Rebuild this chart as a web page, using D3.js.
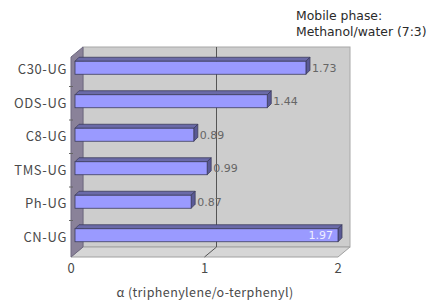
<!DOCTYPE html>
<html lang="en">
<head>
  <meta charset="UTF-8">
  <title>alpha triphenylene / o-terphenyl</title>
  <script src="https://cdn.jsdelivr.net/npm/d3@7"></script>
  <style>
    body { margin: 0; background: #fff; }
    .cat, .tick-label, .axis-title { font-family: "Noto Sans CJK JP", "DejaVu Sans", sans-serif; fill: #4a4a4a; }
    .cat { letter-spacing: 0.6px; }
    .axis-title { letter-spacing: 0.4px; }
    .val { font-family: "DejaVu Sans", sans-serif; font-size: 11px; fill: #666; }
    .note { font-family: "DejaVu Sans", sans-serif; font-size: 12.4px; fill: #2a2a2a; }
  </style>
</head>
<body>
  <div id="chart"></div>
  <script>
    const categories = ['C30-UG', 'ODS-UG', 'C8-UG', 'TMS-UG', 'Ph-UG', 'CN-UG'];
    const values = [1.73, 1.44, 0.89, 0.99, 0.87, 1.97];
    const ticks = [0, 1, 2];
    const noteLines = ['Mobile phase:', 'Methanol/water (7:3)'];
    const xTitle = 'α (triphenylene/o-terphenyl)';

    const width = 446, height = 304;
    const depthX = 12, depthY = -10;   // wall depth
    const barDX = 4, barDY = -3;        // bar sits a bit inside
    const capDX = 4, capDY = -4;        // bar thickness

    const svg = d3.select('#chart').append('svg')
      .attr('width', width)
      .attr('height', height);

    const x = d3.scaleLinear().domain([0, 2]).range([71, 338]);
    const y = d3.scaleBand().domain(categories).range([53, 254]);
    const frontTop = 57, frontBottom = 257;

    const pts = p => p.map(d => d.join(',')).join(' ');

    // back wall
    svg.append('rect')
      .attr('x', x(0) + depthX).attr('y', frontTop + depthY)
      .attr('width', x(2) - x(0)).attr('height', frontBottom - frontTop)
      .attr('fill', '#cdcdcd').attr('stroke', '#a8a8a8');

    // floor
    svg.append('polygon')
      .attr('points', pts([[x(0), frontBottom], [x(0) + depthX, frontBottom + depthY],
        [x(2) + depthX, frontBottom + depthY], [x(2), frontBottom]]))
      .attr('fill', '#d6d6d6').attr('stroke', '#a0a0a0');

    // left wall
    svg.append('polygon')
      .attr('points', pts([[x(0), frontTop], [x(0) + depthX, frontTop + depthY],
        [x(0) + depthX, frontBottom + depthY], [x(0), frontBottom]]))
      .attr('fill', '#8a8299').attr('stroke', '#6e6880');

    // gridlines
    ticks.filter(t => t > 0 && t < 2).forEach(t => {
      svg.append('polyline')
        .attr('points', pts([[x(t) + depthX, frontTop + depthY], [x(t) + depthX, frontBottom + depthY], [x(t), frontBottom]]))
        .attr('fill', 'none').attr('stroke', '#555').attr('stroke-width', 1);
    });

    // category ticks on left wall
    categories.slice(1).forEach(c => {
      svg.append('line')
        .attr('x1', x(0) - 2).attr('x2', x(0) + 2)
        .attr('y1', y(c)).attr('y2', y(c))
        .attr('stroke', '#666');
    });

    // bars
    const bh = 13;
    const bars = svg.append('g').selectAll('g')
      .data(categories.map((c, i) => ({ c, v: values[i] })))
      .join('g');

    bars.each(function (d) {
      const g = d3.select(this);
      const x0 = x(0) + barDX, x1 = x(d.v) + barDX;
      const yt = y(d.c) + y.bandwidth() / 2 - bh / 2 + barDY + 1;
      const yb = yt + bh;
      g.append('polygon')
        .attr('points', pts([[x0, yt], [x0 + capDX, yt + capDY], [x1 + capDX, yt + capDY], [x1, yt]]))
        .attr('fill', '#6a6aa8').attr('stroke', '#3c3c5c').attr('stroke-width', 0.8);
      g.append('polygon')
        .attr('points', pts([[x1, yt], [x1 + capDX, yt + capDY], [x1 + capDX, yb + capDY], [x1, yb]]))
        .attr('fill', '#5a5a96').attr('stroke', '#3c3c5c').attr('stroke-width', 0.8);
      g.append('rect')
        .attr('x', x0).attr('y', yt).attr('width', x1 - x0).attr('height', bh)
        .attr('fill', '#9a9aff').attr('stroke', '#3c3c5c').attr('stroke-width', 0.8);

      const inside = x1 + capDX + 28 > x(2) + depthX;
      g.append('text')
        .attr('class', 'val')
        .attr('x', inside ? x1 - 5 : x1 + capDX + 2)
        .attr('y', yt + bh / 2 + 4)
        .attr('text-anchor', inside ? 'end' : 'start')
        .style('fill', inside ? '#eef' : null)
        .text(d3.format('.2f')(d.v));
    });

    // category labels
    svg.append('g').selectAll('text')
      .data(categories)
      .join('text')
      .attr('class', 'cat')
      .attr('x', 67)
      .attr('y', d => y(d) + y.bandwidth() / 2 + 4.5)
      .attr('text-anchor', 'end')
      .attr('font-size', 13)
      .text(d => d);

    // x tick labels
    svg.append('g').selectAll('text')
      .data(ticks)
      .join('text')
      .attr('class', 'tick-label')
      .attr('x', d => x(d))
      .attr('y', 273)
      .attr('text-anchor', 'middle')
      .attr('font-size', 13)
      .text(d => d);

    svg.append('text')
      .attr('class', 'axis-title')
      .attr('x', 205).attr('y', 297)
      .attr('text-anchor', 'middle')
      .attr('font-size', 12.5)
      .text(xTitle);

    svg.append('g').selectAll('text')
      .data(noteLines)
      .join('text')
      .attr('class', 'note')
      .attr('x', 296)
      .attr('y', (d, i) => 20 + i * 16)
      .text(d => d);
  </script>
</body>
</html>
